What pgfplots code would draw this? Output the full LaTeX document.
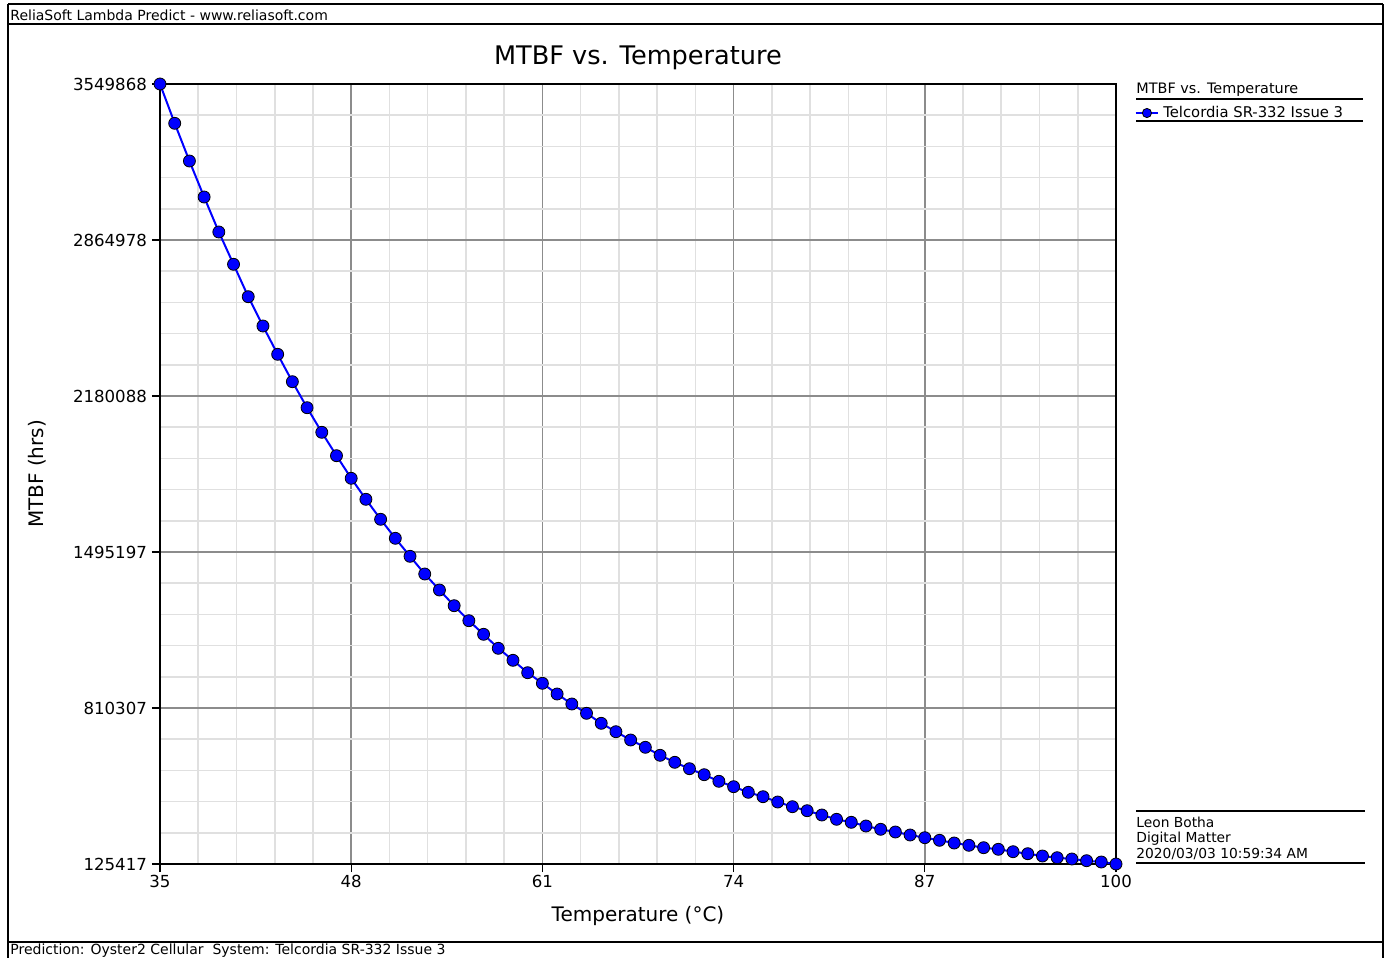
\documentclass[border=0pt]{standalone}
\usepackage{fontspec}
\setmainfont{DejaVu Sans}
\usepackage{pgfplots}
\pgfplotsset{compat=1.18}

\begin{document}
\begin{tikzpicture}
% page frame and annotations, in reference pixel units (y down)
\begin{scope}[x=0.5pt,y=-0.5pt]
\useasboundingbox (0,0) rectangle (1389,958);
\draw[black,line width=0.6pt] (8,4) -- (8,958) (1383,4) -- (1383,958);
\draw[black,line width=0.6pt] (8,4) -- (1383,4) (8,24) -- (1383,24) (8,942) -- (1383,942);
\node[anchor=west,inner sep=0pt,font=\fontsize{7}{8}\selectfont] at (10,15) {ReliaSoft Lambda Predict - www.reliasoft.com};
\node[anchor=west,inner sep=0pt,font=\fontsize{7}{8}\selectfont] at (10,951) {Prediction: Oyster2 Cellular\ \ System: Telcordia SR-332 Issue 3};
\node[font=\fontsize{12.8}{14}\selectfont] at (638,58) {MTBF vs. Temperature};
\node[font=\fontsize{10}{12}\selectfont] at (638,916) {Temperature (°C)};
\node[rotate=90,font=\fontsize{10}{12}\selectfont] at (37,474) {MTBF (hrs)};
% legend title and rules
\node[anchor=west,inner sep=0pt,font=\fontsize{7.2}{8}\selectfont] at (1136,90) {MTBF vs. Temperature};
\draw[black,line width=0.6pt] (1136,99) -- (1363,99) (1136,121) -- (1363,121);
% info block
\draw[black,line width=0.6pt] (1136,811) -- (1365,811) (1136,863) -- (1365,863);
\node[anchor=west,inner sep=0pt,font=\fontsize{6.9}{7.75}\selectfont,align=left] at (1136,838)
  {Leon Botha\\Digital Matter\\2020/03/03 10:59:34 AM};
\end{scope}

\begin{axis}[
  at={(80pt,-432pt)}, anchor=south west,
  scale only axis, width=478pt, height=390pt,
  xmin=35, xmax=100, ymin=125417, ymax=3549868,
  xtick={35,48,61,74,87,100},
  ytick={125417,810307,1495197,2180088,2864978,3549868},
  yticklabels={125417,810307,1495197,2180088,2864978,3549868},
  scaled y ticks=false,
  minor x tick num=4,
  minor ytick={262395,399373,536351,673329,947285,1084263,1221241,1358219,
    1632175,1769153,1906131,2043109,2317065,2454043,2591021,2727999,
    3001955,3138933,3275911,3412889},
  grid=both,
  major grid style={black!45, line width=0.7pt},
  minor grid style={black!12, line width=0.8pt},
  axis line style={black, line width=0.75pt},
  tick style={black, line width=0.6pt},
  tick align=outside, major tick length=4pt, minor tick length=0pt,
  xtick pos=bottom, ytick pos=left,
  tick label style={font=\fontsize{8.3}{10}\selectfont},
  yticklabel style={xshift=1pt},
  xticklabel style={yshift=2pt},
  /pgf/number format/assume math mode=true,
  clip=false,
  legend style={draw=none, fill=none, at={(axis description cs:1.019,0.9628)},
    anchor=west, inner sep=0pt, font=\fontsize{7.4}{8}\selectfont},
  legend image code/.code={\draw[mark repeat=2,mark phase=2,mark size=2.3pt]
    plot coordinates {(0cm,0cm) (0.2cm,0cm) (0.4cm,0cm)};},
]
\addplot[color=blue, line width=1pt, mark=*, mark size=3pt,
  mark options={fill=blue, draw=black, line width=0.4pt}] coordinates {
(35,3549868) (36,3377312) (37,3211798) (38,3053747) (39,2900087) (40,2758280)
(41,2616034) (42,2487398) (43,2363153) (44,2242859) (45,2128711) (46,2020710)
(47,1917976) (48,1818756) (49,1726559) (50,1638753) (51,1555338) (52,1476312)
(53,1398604) (54,1328359) (55,1259431) (56,1193577) (57,1133869) (58,1072405)
(59,1019721) (60,965281) (61,918744) (62,871768) (63,827865) (64,787035)
(65,743132) (66,706254) (67,669814) (68,637765) (69,602643) (70,571911)
(71,543813) (72,517471) (73,488495) (74,464787) (75,440202) (76,420884)
(77,397616) (78,376981) (79,359420) (80,340542) (81,321663) (82,308493)
(83,292248) (84,277760) (85,265907) (86,252736) (87,240882) (88,229467)
(89,217613) (90,207516) (91,196979) (92,189954) (93,179418) (94,170637)
(95,160539) (96,153076) (97,147369) (98,139905) (99,134198) (100,125417)
};
\addlegendentry{Telcordia SR-332 Issue 3}
\end{axis}
\end{tikzpicture}
\end{document}
